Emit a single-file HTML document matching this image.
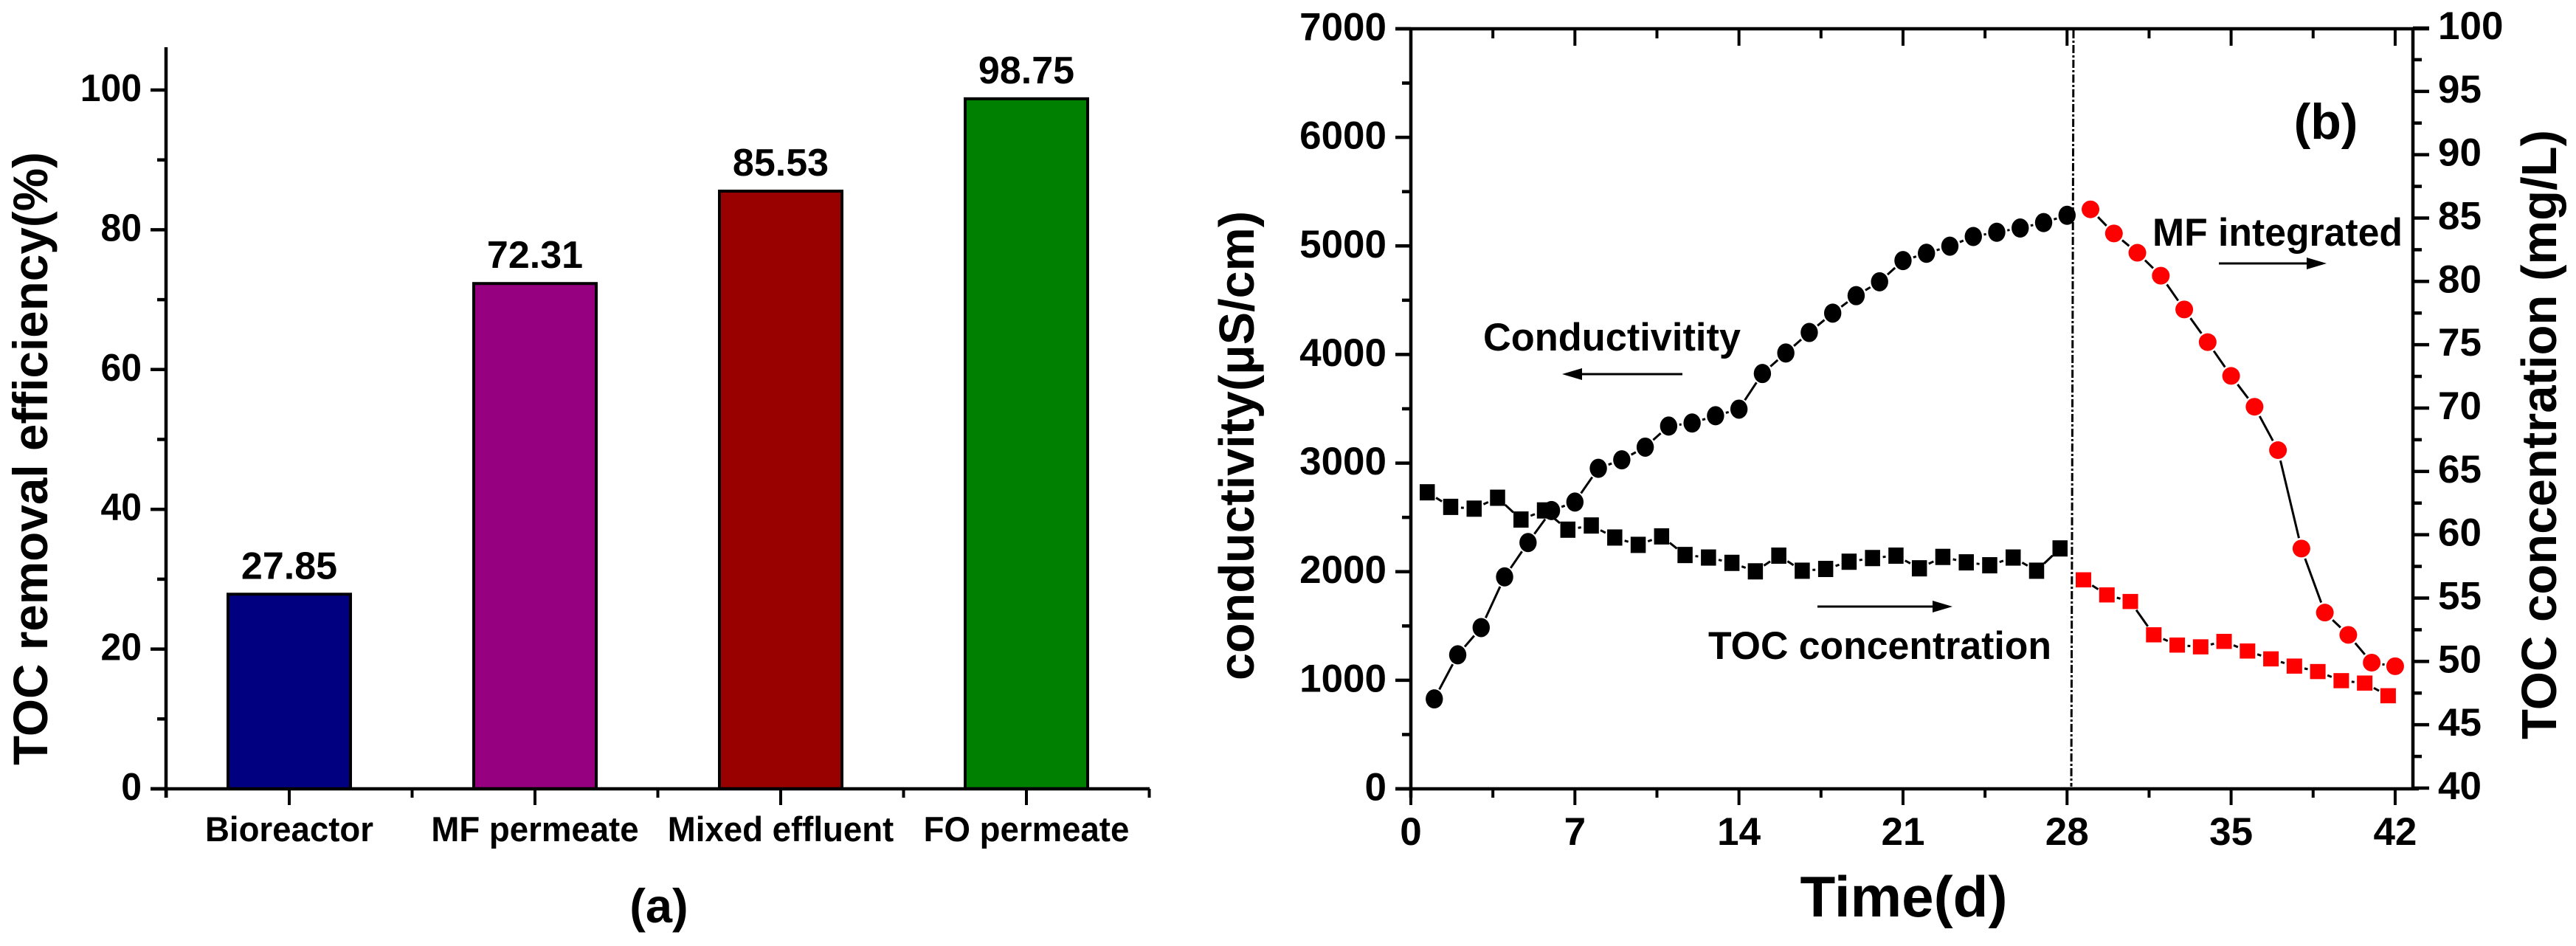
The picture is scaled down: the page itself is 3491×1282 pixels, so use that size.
<!DOCTYPE html>
<html lang="en">
<head>
<meta charset="utf-8">
<title>TOC removal efficiency and conductivity charts</title>
<style>
html,body{margin:0;padding:0;background:#fff;}
svg{display:block;}
text{font-family:"Liberation Sans",Arial,sans-serif;font-weight:bold;fill:#000;}
</style>
</head>
<body>
<svg id="fig" xmlns="http://www.w3.org/2000/svg" width="3491" height="1282" viewBox="0 0 3491 1282">
  <rect x="0" y="0" width="3491" height="1282" fill="#fff"/>
  <g id="panelA"></g>
  <g id="panelB"></g>

  <text transform="translate(64,1037) rotate(-90)" font-size="66" textLength="831" lengthAdjust="spacingAndGlyphs">TOC removal efficiency(%)</text>
  <text x="893" y="1250" font-size="65" text-anchor="middle">(a)</text>

  <text transform="translate(1699,922) rotate(-90)" font-size="67" textLength="636" lengthAdjust="spacingAndGlyphs">conductivity(μS/cm)</text>
  <text transform="translate(3464,1002) rotate(-90)" font-size="67" textLength="826" lengthAdjust="spacingAndGlyphs">TOC concentration (mg/L)</text>
  <text x="2580" y="1242" font-size="78" text-anchor="middle" textLength="281" lengthAdjust="spacingAndGlyphs">Time(d)</text>
  <text x="3152" y="188" font-size="68" text-anchor="middle">(b)</text>
  <text x="2010" y="475" font-size="53" textLength="349" lengthAdjust="spacingAndGlyphs">Conductivitity</text>
  <text x="2315" y="893" font-size="53" textLength="465" lengthAdjust="spacingAndGlyphs">TOC concentration</text>
  <text x="2917" y="333" font-size="53" textLength="339" lengthAdjust="spacingAndGlyphs">MF integrated</text>

  <g>
    <line x1="2280" y1="507" x2="2140" y2="507" stroke="#000" stroke-width="3"/>
    <polygon points="2117,507 2144,499 2144,515" fill="#000"/>
  </g>
  <g>
    <line x1="2463" y1="822" x2="2625" y2="822" stroke="#000" stroke-width="3"/>
    <polygon points="2646,822 2619,814 2619,830" fill="#000"/>
  </g>
  <g>
    <line x1="3007" y1="357" x2="3130" y2="357" stroke="#000" stroke-width="3"/>
    <polygon points="3153,357 3126,349 3126,365" fill="#000"/>
  </g>
  <line x1="2810" y1="41" x2="2807" y2="1066" stroke="#000" stroke-width="3" stroke-dasharray="11 3 3 3"/>
</svg>

<script>
// Panel (a) data
var barCategories = ["Bioreactor", "MF permeate", "Mixed effluent", "FO permeate"];
var barValues = [27.85, 72.31, 85.53, 98.75];
var barLabels = ["27.85", "72.31", "85.53", "98.75"];
var barColors = ["#000080", "#960080", "#990000", "#008000"];
var barTickLabels = [0, 20, 40, 60, 80, 100];

// Panel (b) data
var circleDays = [1,2,3,4,5,6,7,8,9,10,11,12,13,14,15,16,17,18,19,20,21,22,23,24,25,26,27,28];
var conductivity = [828,1234,1485,1952,2268,2563,2641,2952,3030,3147,3341,3369,3436,3497,3825,4014,4203,4381,4542,4670,4865,4932,4998,5087,5126,5165,5215,5282];
var mfCircleDays = [29,30,31,32,33,34,35,36,37,38,39,40,41,42];
var mfConductivity = [5337,5115,4937,4726,4415,4114,3803,3519,3119,2213,1623,1418,1162,1129];
var squareDays = [0.7,1.7,2.7,3.7,4.7,5.7,6.7,7.7,8.7,9.7,10.7,11.7,12.7,13.7,14.7,15.7,16.7,17.7,18.7,19.7,20.7,21.7,22.7,23.7,24.7,25.7,26.7,27.7];
var tocConcentration = [63.35,62.2,62.06,62.92,61.2,61.92,60.4,60.73,59.78,59.2,59.87,58.4,58.2,57.78,57.11,58.35,57.16,57.3,57.87,58.16,58.35,57.35,58.25,57.82,57.59,58.2,57.16,58.92];
var mfSquareDays = [28.7,29.7,30.7,31.7,32.7,33.7,34.7,35.7,36.7,37.7,38.7,39.7,40.7,41.7];
var mfTocConcentration = [56.44,55.25,54.73,52.1,51.29,51.15,51.58,50.82,50.2,49.63,49.2,48.48,48.29,47.29];
var xTickLabels = [0, 7, 14, 21, 28, 35, 42];
var leftTickLabels = [0, 1000, 2000, 3000, 4000, 5000, 6000, 7000];
var rightTickLabels = [40, 45, 50, 55, 60, 65, 70, 75, 80, 85, 90, 95, 100];

var NS = "http://www.w3.org/2000/svg";
function mk(parent, tag, attrs, txt) {
  var el = document.createElementNS(NS, tag);
  for (var k in attrs) { el.setAttribute(k, attrs[k]); }
  if (txt !== undefined) { el.textContent = txt; }
  parent.appendChild(el);
  return el;
}
function seg(parent, x1, y1, x2, y2, w) {
  return mk(parent, "line", {x1: x1, y1: y1, x2: x2, y2: y2, stroke: "#000", "stroke-width": w});
}

// Panel (a) scales
function aX(c) { return 392 + (c - 1) * 333; }
function aY(v) { return 1069 - v * 9.47; }

var A = document.getElementById("panelA");
var el;

barValues.forEach(function (v, i) {
  var cx = aX(i + 1);
  var top = aY(v);
  var bar = mk(A, "rect", {x: cx - 83, y: top, width: 166, height: 1069 - top, fill: barColors[i], stroke: "#000", "stroke-width": 4});
  
  
  var lab = mk(A, "text", {x: cx, y: top - 21, "font-size": 52, "text-anchor": "middle"}, barLabels[i]);
  
  
  var cat = mk(A, "text", {transform: "translate(" + cx + ",1140) scale(0.97,1)", "font-size": 47, "text-anchor": "middle"}, barCategories[i]);
  
  
  var tk = seg(A, cx, 1069, cx, 1091, 4);
  
  
  var mn = seg(A, aX(i + 0.5), 1069, aX(i + 0.5), 1081, 4);
  
  
});
el = seg(A, aX(4.5), 1069, aX(4.5), 1081, 4);



barTickLabels.forEach(function (v, i) {
  var y = aY(v);
  var tk = seg(A, 204, y, 225, y, 4.5);
  
  
  var lab = mk(A, "text", {transform: "translate(192," + (y + 15) + ") scale(0.96,1)", "font-size": 52, "text-anchor": "end"}, String(v));
  
  
  if (i < barTickLabels.length - 1) {
    var mn = seg(A, 213, aY(v + 10), 225, aY(v + 10), 4.5);
    
    
  }
});

el = seg(A, 225, 64, 225, 1081, 4.5);


el = seg(A, 204, 1069, 1558, 1069, 4.5);



// Panel (b) scales
function bX(d) { return 1912 + d * 31.76; }
function bYL(v) { return 1069 - v * 1030 / 7000; }
function bYR(v) { return 1068 - (v - 40) * 1030 / 60; }

var B = document.getElementById("panelB");

// axes frame
el = seg(B, 1891, 39, 3292, 39, 4.5);


el = seg(B, 1891, 1069, 3278, 1069, 4.5);


el = seg(B, 1912, 39, 1912, 1081, 4.5);


el = seg(B, 3270, 39, 3270, 1069, 4.5);



xTickLabels.forEach(function (d, i) {
  var x = bX(d);
  var tk = seg(B, x, 1069, x, 1091, 4);
  
  
  var tt = seg(B, x, 39, x, 62, 4);
  
  
  var lab = mk(B, "text", {x: x, y: 1145, "font-size": 53, "text-anchor": "middle"}, String(d));
  
  
  if (i < xTickLabels.length - 1) {
    var mx = bX(d + 3.5);
    var mn = seg(B, mx, 1069, mx, 1081, 4);
    
    
    var mt = seg(B, mx, 39, mx, 52, 4);
    
    
  }
});

leftTickLabels.forEach(function (v, i) {
  var y = bYL(v);
  var tk = seg(B, 1891, y, 1912, y, 4.5);
  
  
  var lab = mk(B, "text", {x: 1879, y: y + 15.5, "font-size": 53, "text-anchor": "end"}, String(v));
  
  
  if (i < leftTickLabels.length - 1) {
    var my = bYL(v + 500);
    var mn = seg(B, 1900, my, 1912, my, 4.5);
    
    
  }
});

rightTickLabels.forEach(function (v, i) {
  var y = bYR(v);
  var tk = seg(B, 3270, y, 3292, y, 4.5);
  
  
  var lab = mk(B, "text", {x: 3304, y: y + 15, "font-size": 53}, String(v));
  
  
  if (i < rightTickLabels.length - 1) {
    var my = bYR(v + 2.5);
    var mn = seg(B, 3270, my, 3282, my, 4.5);
    
    
  }
});

// Connector lines leave a gap around each marker, as in the reference.
function connect(xs, ys, gap) {
  for (var i = 0; i < xs.length - 1; i++) {
    var dx = xs[i + 1] - xs[i], dy = ys[i + 1] - ys[i];
    var len = Math.sqrt(dx * dx + dy * dy);
    if (len <= 2 * gap) { continue; }
    var ux = dx / len, uy = dy / len;
    var ln = seg(B, xs[i] + ux * gap, ys[i] + uy * gap, xs[i + 1] - ux * gap, ys[i + 1] - uy * gap, 3);
    
    
  }
}
function drawCircles(days, vals, color, rx, ry, name) {
  var xs = days.map(bX), ys = vals.map(bYL);
  connect(xs, ys, 14.5);
  xs.forEach(function (x, i) {
    var c = mk(B, "ellipse", {cx: x, cy: ys[i], rx: rx, ry: ry, fill: color});
    
    
  });
}
function drawSquares(days, vals, color, w, h, name) {
  var xs = days.map(bX), ys = vals.map(bYR);
  connect(xs, ys, 14);
  xs.forEach(function (x, i) {
    var r = mk(B, "rect", {x: x - w / 2, y: ys[i] - h / 2, width: w, height: h, fill: color});
    
    
  });
}
drawSquares(squareDays, tocConcentration, "#000", 20.5, 22, "toc-point");
drawSquares(mfSquareDays, mfTocConcentration, "#f00", 21, 20.5, "mf-toc-point");
drawCircles(circleDays, conductivity, "#000", 11.7, 13, "conductivity-point");
drawCircles(mfCircleDays, mfConductivity, "#f00", 12, 12, "mf-conductivity-point");
</script>
</body>
</html>
